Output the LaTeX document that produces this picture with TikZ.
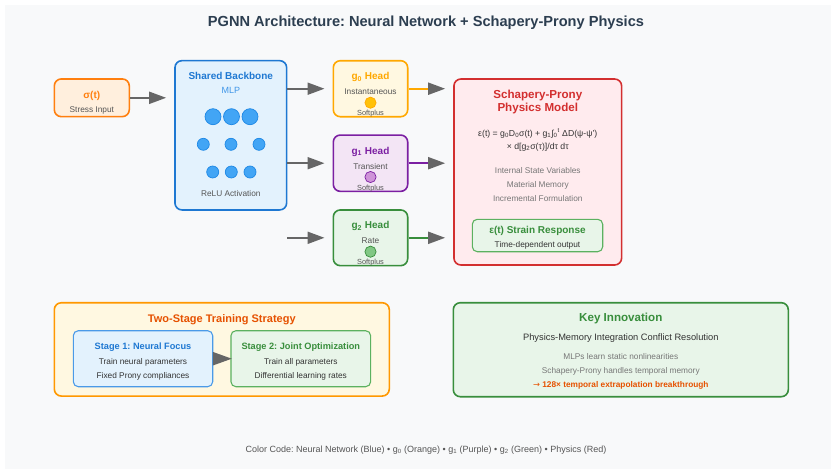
\documentclass[tikz,border=0pt]{standalone}
\usepackage{fontspec}
\setmainfont{Liberation Sans}
\newfontfamily\symfont{DejaVu Sans}
\usetikzlibrary{arrows.meta}
\usetikzlibrary{positioning}
\frenchspacing

\definecolor{panelbg}{HTML}{F8F9FA}
\definecolor{titlecol}{HTML}{2C3E50}
\definecolor{arrowgray}{HTML}{666666}
\definecolor{subgray}{HTML}{555555}
\definecolor{notegray}{HTML}{777777}
\definecolor{darktext}{HTML}{333333}
\definecolor{sigcol}{HTML}{FF7F0E}
\definecolor{sigfill}{HTML}{FFEFDD}
\definecolor{nncol}{HTML}{1E78D2}
\definecolor{nnfill}{HTML}{E3F2FD}
\definecolor{nnlight}{HTML}{3F96E8}
\definecolor{neuronfill}{HTML}{42A5F5}
\definecolor{neurondraw}{HTML}{1E88E5}
\definecolor{gzerocol}{HTML}{FFA800}
\definecolor{gzerofill}{HTML}{FFF8E1}
\definecolor{gzerodot}{HTML}{FFC107}
\definecolor{gonecol}{HTML}{7B1FA2}
\definecolor{gonefill}{HTML}{F3E5F5}
\definecolor{gonedot}{HTML}{CE93D8}
\definecolor{gtwocol}{HTML}{388E3C}
\definecolor{gtwofill}{HTML}{E8F5E9}
\definecolor{gtwodot}{HTML}{81C784}
\definecolor{physcol}{HTML}{D32F2F}
\definecolor{physfill}{HTML}{FFEBEE}
\definecolor{okgreen}{HTML}{5CB160}
\definecolor{traincol}{HTML}{FF9800}
\definecolor{trainfill}{HTML}{FFF8E1}
\definecolor{deeporange}{HTML}{E65100}
\definecolor{stageblue}{HTML}{4A9AE8}

\newcommand{\szTitle}{\fontsize{14.6}{17}\selectfont\bfseries}
\newcommand{\szBig}{\fontsize{11.6}{13.5}\selectfont\bfseries}
\newcommand{\szHead}{\fontsize{10}{12}\selectfont\bfseries}
\newcommand{\szSub}{\fontsize{9.2}{11}\selectfont\bfseries}
\newcommand{\szMid}{\fontsize{9.3}{11}\selectfont}
\newcommand{\szSmall}{\fontsize{8.3}{10}\selectfont}
\newcommand{\szTiny}{\fontsize{7.4}{9}\selectfont}

\tikzset{
box/.style={
	rectangle,
	rounded corners=7pt,
	line width=1.6pt,
	inner sep=0pt
},
txt/.style={
	inner sep=0pt,
	text height=1.4ex,
	text depth=0pt
},
neuron/.style={
	fill=neuronfill,
	draw=neurondraw,
	line width=0.7pt
},
arrow/.style={
	line width=2pt,
	draw=arrowgray,
	-{Triangle[length=17pt, width=12pt]},
	shorten >=8pt
},
headarrow/.style={
	line width=2pt,
	-{Triangle[length=17pt, width=12pt, color=arrowgray]},
	shorten >=8pt
}
}

\begin{document}
\begin{tikzpicture}[x=1pt, y=-1pt]
\useasboundingbox (0,0) rectangle (831,469);
\fill [panelbg] (5,5) rectangle (831,469);

% ===== Title =====
\node (title) [txt, font=\szTitle, text=titlecol] at (426, 23) {PGNN Architecture: Neural Network + Schapery-Prony Physics};

% ===== Input and shared backbone =====
\node (sigma)    [box, draw=sigcol, fill=sigfill, minimum width=75, minimum height=37.7] at (91.8, 97.8) {};
\node (sigmat)   [txt, font=\szHead, text=sigcol]   at (91.8, 95)  {σ(t)};
\node (sigmasub) [txt, font=\szSmall, text=subgray] at (91.8, 109) {Stress Input};

\node (backbone) [box, draw=nncol, fill=nnfill, minimum width=111.7, minimum height=149.3] at (230.8, 135.3) {};
\node (bbtitle)  [txt, font=\szHead, text=nncol]                         at (230.8, 76)  {Shared Backbone};
\node (bbmlp)    [txt, font=\fontsize{9}{11}\selectfont, text=nnlight]   at (230.8, 90)  {MLP};
\node (bbrelu)   [txt, font=\szSmall, text=subgray]                      at (230.8, 193) {ReLU Activation};
% neuron layers
\foreach \cx in {213, 231.5, 250} \filldraw [neuron] (\cx, 116.7) circle [radius=8pt];
\foreach \cx in {203.3, 231, 259} \filldraw [neuron] (\cx, 144.3) circle [radius=6pt];
\foreach \cx in {212.7, 231.3, 250} \filldraw [neuron] (\cx, 172) circle [radius=6pt];

% ===== Output heads =====
\node (g0) [box, draw=gzerocol, fill=gzerofill, minimum width=74.4, minimum height=56] at (370.5, 88.7) {};
\node (g0t)  [txt, font=\szHead, text=gzerocol] at (370.5, 76)    {g\textsubscript{0} Head};
\node (g0s)  [txt, font=\szSmall, text=subgray] at (370.5, 90.7)  {Instantaneous};
\filldraw [fill=gzerodot, draw=gzerocol, line width=0.7pt] (370.5, 102.7) circle [radius=5.6pt];
\node (g0sp) [txt, font=\szTiny, text=subgray]  at (370.5, 112)   {Softplus};

\node (g1) [box, draw=gonecol, fill=gonefill, minimum width=74.4, minimum height=56.3] at (370.5, 163.2) {};
\node (g1t)  [txt, font=\szHead, text=gonecol]  at (370.5, 150.3) {g\textsubscript{1} Head};
\node (g1s)  [txt, font=\szSmall, text=subgray] at (370.5, 165.3) {Transient};
\filldraw [fill=gonedot, draw=gonecol, line width=0.7pt] (370.5, 177) circle [radius=5.6pt];
\node (g1sp) [txt, font=\szTiny, text=subgray]  at (370.5, 186.7) {Softplus};

\node (g2) [box, draw=gtwocol, fill=gtwofill, minimum width=74.4, minimum height=55.7] at (370.5, 237.8) {};
\node (g2t)  [txt, font=\szHead, text=gtwocol]  at (370.5, 225)   {g\textsubscript{2} Head};
\node (g2s)  [txt, font=\szSmall, text=subgray] at (370.5, 240)   {Rate};
\filldraw [fill=gtwodot, draw=gtwocol, line width=0.7pt] (370.5, 251.7) circle [radius=5.6pt];
\node (g2sp) [txt, font=\szTiny, text=subgray]  at (370.5, 260.7) {Softplus};

% ===== Physics model =====
\node (phys) [box, draw=physcol, fill=physfill, minimum width=167.7, minimum height=186] at (537.8, 172) {};
\node (physt1) [txt, font=\szBig, text=physcol]     at (537.8, 94.3)  {Schapery-Prony};
\node (physt2) [txt, font=\szBig, text=physcol]     at (537.8, 107.7) {Physics Model};
\node (eqone)  [txt, font=\fontsize{8.7}{10}\selectfont, text=darktext]  at (537.8, 132.7) {ε(t) = g\textsubscript{0}D\textsubscript{0}σ(t) + g\textsubscript{1}∫\textsubscript{0}\textsuperscript{t} ΔD(ψ-ψ')};
\node (eqtwo)  [txt, font=\fontsize{8.7}{10}\selectfont, text=darktext]  at (537.8, 146)   {× d[g\textsubscript{2}σ(τ)]/dτ dτ};
\node (isv)    [txt, font=\szSmall, text=notegray]  at (537.8, 170)   {Internal State Variables};
\node (mem)    [txt, font=\szSmall, text=notegray]  at (537.8, 184)   {Material Memory};
\node (incr)   [txt, font=\szSmall, text=notegray]  at (537.8, 197.7) {Incremental Formulation};
\node (strain) [box, rounded corners=5pt, line width=1.1pt, draw=okgreen, fill=gtwofill, minimum width=130.4, minimum height=32.4] at (537.5, 235.5) {};
\node (straint) [txt, font=\fontsize{10}{12}\selectfont\bfseries, text=gtwocol] at (537.5, 229.3) {ε(t) Strain Response};
\node (strains) [txt, font=\szSmall, text=darktext] at (537.5, 243.7) {Time-dependent output};

% ===== Arrows: input -> backbone -> heads -> physics =====
\draw [arrow] (sigma.east) -- (sigma.east -| backbone.west);
\draw [arrow] (backbone.east |- g0.west) -- (g0.west);
\draw [arrow] (backbone.east |- g1.west) -- (g1.west);
\coordinate (g2src) at (backbone.east |- g2.west);
\draw [arrow] (g2src) -- (g2.west);
\draw [headarrow, draw=gzerocol] (g0.east) -- (g0.east -| phys.west);
\draw [headarrow, draw=gonecol]  (g1.east) -- (g1.east -| phys.west);
\draw [headarrow, draw=gtwocol]  (g2.east) -- (g2.east -| phys.west);

% ===== Two-stage training =====
\node (train) [box, draw=traincol, fill=trainfill, minimum width=335, minimum height=93.3] at (221.8, 349.4) {};
\node (traint) [txt, font=\fontsize{11}{13}\selectfont\bfseries, text=deeporange] at (221.8, 318.3) {Two-Stage Training Strategy};
\node (stage1) [box, rounded corners=5pt, line width=1.1pt, draw=stageblue, fill=nnfill, minimum width=139.4, minimum height=56] at (143, 358.7) {};
\node (stage1t) [txt, font=\szSub, text=nncol]       at (143, 346)   {Stage 1: Neural Focus};
\node (stage1a) [txt, font=\szSmall, text=darktext]  at (143, 361)   {Train neural parameters};
\node (stage1b) [txt, font=\szSmall, text=darktext]  at (143, 374.3) {Fixed Prony compliances};
\node (stage2) [box, rounded corners=5pt, line width=1.1pt, draw=okgreen, fill=gtwofill, minimum width=139.7, minimum height=56] at (300.8, 358.7) {};
\node (stage2t) [txt, font=\szSub, text=gtwocol]     at (300.8, 346)   {Stage 2: Joint Optimization};
\node (stage2a) [txt, font=\szSmall, text=darktext]  at (300.8, 361)   {Train all parameters};
\node (stage2b) [txt, font=\szSmall, text=darktext]  at (300.8, 374.3) {Differential learning rates};
\draw [arrow, shorten >=-1.5pt, -{Triangle[length=19pt, width=13pt]}] (stage1.east) -- (stage2.west);

% ===== Key innovation =====
\node (key) [box, draw=gtwocol, fill=gtwofill, minimum width=335, minimum height=94] at (620.8, 349.7) {};
\node (keyt)  [txt, font=\szBig, text=gtwocol]     at (620.8, 317.7) {Key Innovation};
\node (keys)  [txt, font=\szMid, text=darktext]    at (620.8, 336.7) {Physics-Memory Integration Conflict Resolution};
\node (keya)  [txt, font=\szSmall, text=notegray]  at (620.8, 356)   {MLPs learn static nonlinearities};
\node (keyb)  [txt, font=\szSmall, text=notegray]  at (620.8, 370)   {Schapery-Prony handles temporal memory};
\node (keyc)  [txt, font=\szSmall\bfseries, text=deeporange] at (620.8, 383.3) {{\symfont\mdseries →} 128× temporal extrapolation breakthrough};

% ===== Legend =====
\node (legend) [txt, font=\fontsize{9}{11}\selectfont, text=subgray] at (426, 449) {Color Code: Neural Network (Blue) • g\textsubscript{0} (Orange) • g\textsubscript{1} (Purple) • g\textsubscript{2} (Green) • Physics (Red)};

\end{tikzpicture}
\end{document}
